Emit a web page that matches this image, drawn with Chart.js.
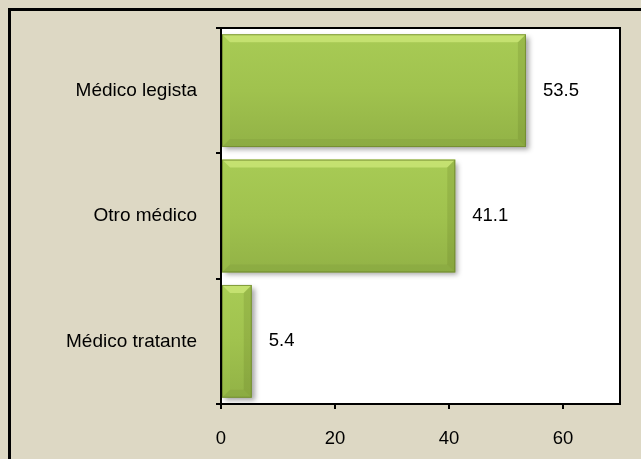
<!DOCTYPE html>
<html>
<head>
<meta charset="utf-8">
<script src="https://cdn.jsdelivr.net/npm/chart.js@4/dist/chart.umd.min.js"></script>
<style>
  html, body { margin: 0; padding: 0; background: #ddd8c4; }
  #wrap { width: 641px; height: 459px; position: relative; }
</style>
</head>
<body>
<div id="wrap"><canvas id="chart" width="641" height="459"></canvas></div>
<script>
const categories = ['Médico legista', 'Otro médico', 'Médico tratante'];
const values = [53.5, 41.1, 5.4];
const valueLabels = ['53.5', '41.1', '5.4'];
const xTicks = [0, 20, 40, 60];

const FONT = '"Liberation Sans", Arial, sans-serif';

// page background, outer frame and white plot area
const frame = {
    id: 'frame',
    beforeDraw(chart) {
        const { ctx, chartArea: a } = chart;
        ctx.save();
        ctx.fillStyle = '#ddd8c4';
        ctx.fillRect(0, 0, chart.width, chart.height);
        ctx.strokeStyle = '#000';
        ctx.lineWidth = 3;
        ctx.beginPath();
        ctx.moveTo(9.5, chart.height + 5);
        ctx.lineTo(9.5, 9.5);
        ctx.lineTo(chart.width + 5, 9.5);
        ctx.stroke();
        ctx.fillStyle = '#fff';
        ctx.fillRect(a.left, a.top, a.right - a.left, a.bottom - a.top);
        ctx.restore();
    },
    afterDraw(chart) {
        const { ctx, chartArea: a } = chart;
        ctx.save();
        ctx.strokeStyle = '#000';
        ctx.lineWidth = 2;
        ctx.strokeRect(a.left, a.top, a.right - a.left, a.bottom - a.top);
        ctx.restore();
    }
};

// drop shadow under bars, then bevel edges on top
const bevel = {
    id: 'bevel',
    beforeDatasetDraw(chart) {
        const ctx = chart.ctx;
        ctx.save();
        ctx.shadowColor = 'rgba(0,0,0,0.35)';
        ctx.shadowOffsetX = 3;
        ctx.shadowOffsetY = 3;
        ctx.shadowBlur = 5;
    },
    afterDatasetDraw(chart) {
        const ctx = chart.ctx;
        ctx.restore();
        const meta = chart.getDatasetMeta(0);
        ctx.save();
        meta.data.forEach((bar) => {
            const l = bar.base, r = bar.x;
            const t = bar.y - bar.height / 2, btm = bar.y + bar.height / 2;
            const b = Math.min(8, (r - l) / 2);
            const poly = (pts, fill) => {
                ctx.beginPath();
                ctx.moveTo(pts[0][0], pts[0][1]);
                for (let k = 1; k < pts.length; k++) ctx.lineTo(pts[k][0], pts[k][1]);
                ctx.closePath();
                ctx.fillStyle = fill;
                ctx.fill();
            };
            poly([[l, t], [r, t], [r - b, t + b], [l + b, t + b]], 'rgba(225,248,140,0.5)');
            poly([[r, t], [r, btm], [r - b, btm - b], [r - b, t + b]], 'rgba(80,100,25,0.16)');
            poly([[l, btm], [r, btm], [r - b, btm - b], [l + b, btm - b]], 'rgba(70,90,20,0.08)');
            poly([[l, t], [l + b, t + b], [l + b, btm - b], [l, btm]], 'rgba(190,235,80,0.12)');
            ctx.strokeStyle = 'rgba(110,135,45,0.8)';
            ctx.lineWidth = 1;
            ctx.strokeRect(l + 0.5, t + 0.5, r - l - 1, btm - t - 1);
        });
        ctx.restore();
    }
};

// value labels right of bars
const valueText = {
    id: 'valueText',
    afterDatasetsDraw(chart) {
        const { ctx } = chart;
        const meta = chart.getDatasetMeta(0);
        ctx.save();
        ctx.fillStyle = '#000';
        ctx.font = '18.5px ' + FONT;
        ctx.textAlign = 'left';
        ctx.textBaseline = 'middle';
        meta.data.forEach((bar, i) => {
            ctx.fillText(valueLabels[i], bar.x + 17, bar.y);
        });
        ctx.restore();
    }
};

function barFill(context) {
    const chart = context.chart;
    const y = chart.scales.y;
    if (!y || !chart.chartArea) return '#9fc04c';
    const center = y.getPixelForValue(context.dataIndex);
    const h = (y.height / categories.length) * 0.9;
    const g = chart.ctx.createLinearGradient(0, center - h / 2, 0, center + h / 2);
    g.addColorStop(0, '#a8cb55');
    g.addColorStop(0.5, '#a0c24e');
    g.addColorStop(1, '#92b246');
    return g;
}

new Chart(document.getElementById('chart').getContext('2d'), {
    type: 'bar',
    data: {
        labels: categories,
        datasets: [{
            data: values,
            backgroundColor: barFill,
            borderWidth: 0,
            categoryPercentage: 1,
            barPercentage: 0.9
        }]
    },
    options: {
        indexAxis: 'y',
        animation: false,
        responsive: false,
        layout: { padding: { left: 0, top: 28, right: 21, bottom: 0 } },
        scales: {
            x: {
                min: 0,
                max: 70,
                afterBuildTicks(scale) { scale.ticks = xTicks.map(v => ({ value: v })); },
                afterFit(scale) { scale.height = 55; scale.paddingLeft = 0; scale.paddingRight = 0; },
                border: { display: true, color: '#000', width: 2 },
                grid: { drawOnChartArea: false, drawTicks: true, tickLength: 5, color: '#000', lineWidth: 2 },
                ticks: { color: '#000', font: { family: FONT, size: 18.5 }, padding: 19, maxRotation: 0 }
            },
            y: {
                afterFit(scale) { scale.width = 221; scale.paddingTop = 0; scale.paddingBottom = 0; },
                border: { display: true, color: '#000', width: 2 },
                grid: { drawOnChartArea: false, drawTicks: true, tickLength: 5, color: '#000', lineWidth: 2, offset: true },
                ticks: { color: '#000', font: { family: FONT, size: 19 }, padding: 19 }
            }
        },
        plugins: {
            legend: { display: false },
            tooltip: { enabled: false }
        }
    },
    plugins: [frame, bevel, valueText]
});
</script>
</body>
</html>
